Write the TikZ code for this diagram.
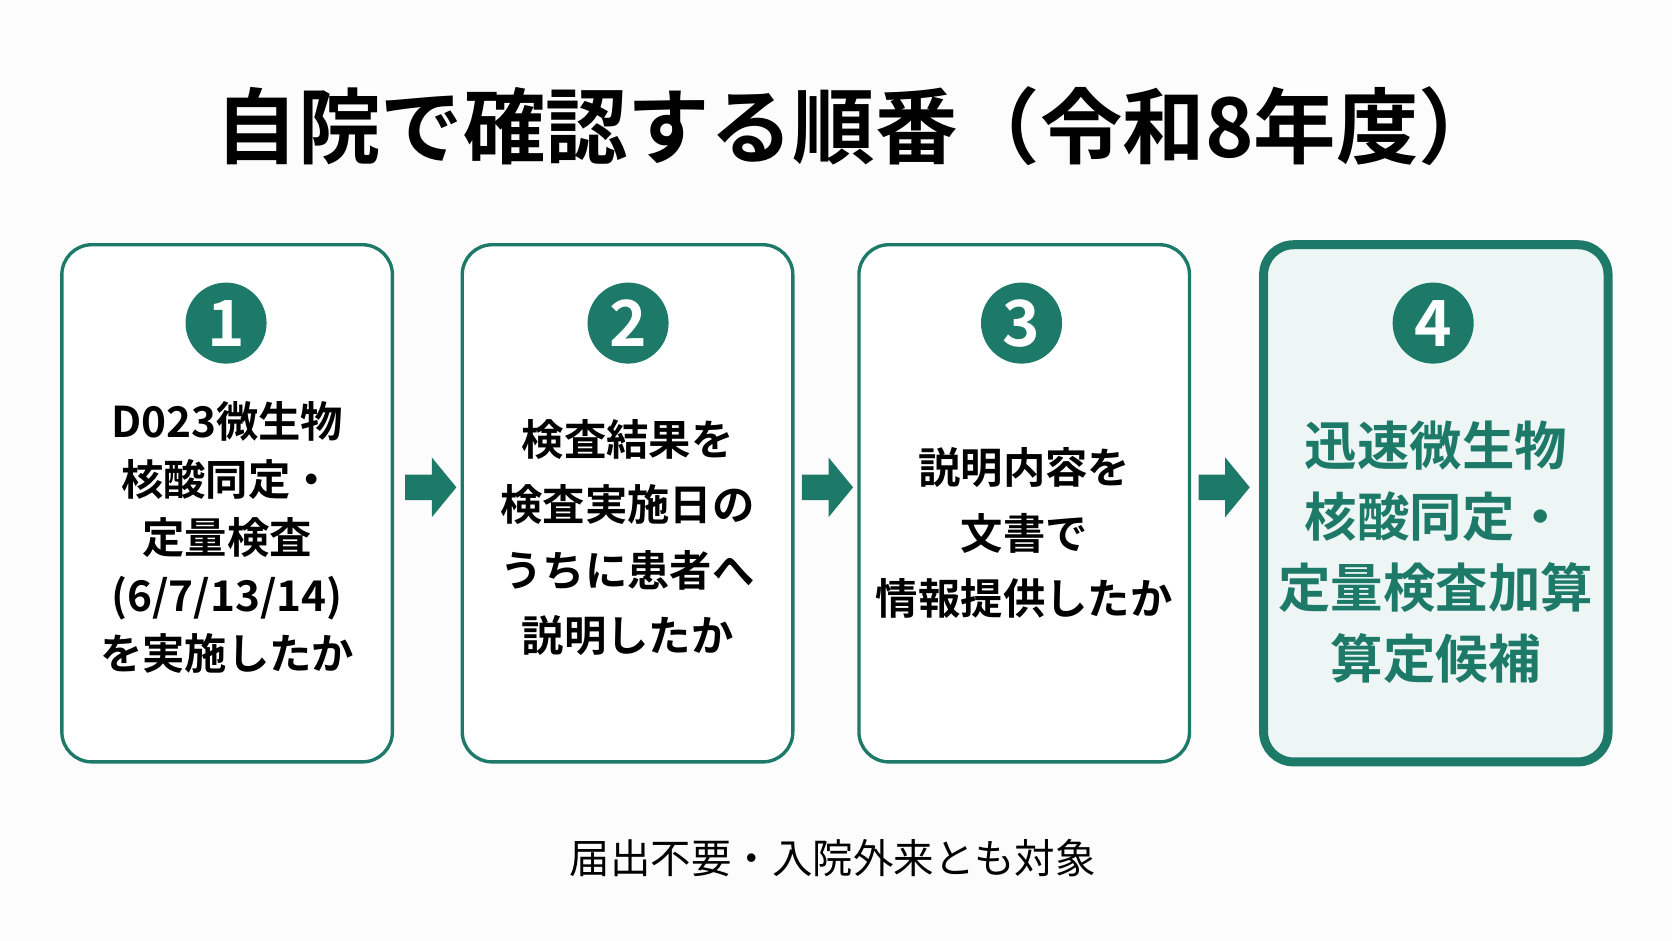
\documentclass[tikz,border=0pt]{standalone}
\usepackage{fontspec}
\setmainfont{Noto Sans CJK JP}
\newfontfamily\boldjp{Noto Sans CJK JP Bold}
\usetikzlibrary{positioning,calc}
\definecolor{teal1}{HTML}{1E7A68}
\definecolor{tealbg}{HTML}{EEF6F5}
\tikzset{
  stepbox/.style={draw=teal1,line width=0.9pt,rounded corners=8pt,fill=white,minimum width=3.1cm,minimum height=4.85cm},
  num/.style={circle,fill=teal1,text=white,minimum size=0.76cm,inner sep=0pt,font=\boldjp\fontsize{17}{17}\selectfont},
  txt/.style={align=center,font=\boldjp\fontsize{11.3}{15.5}\selectfont},
}
\newcommand{\blockarrow}[1]{\fill[teal1] ($(#1)+(-0.24,0.12)$) -- ++(0.25,0) -- ++(0,0.16) -- ++(0.23,-0.28) -- ++(-0.23,-0.28) -- ++(0,0.16) -- ++(-0.25,0) -- cycle;}
\begin{document}
\begin{tikzpicture}[x=1cm,y=1cm]
\useasboundingbox[fill=white!98!gray] (0,0) rectangle (15.68,8.82);
\node[font=\boldjp\fontsize{22}{22}\selectfont] (title) at (8.05,7.64) {自院で確認する順番（令和8年度）};
% boxes
\node[stepbox] (b1) at (2.13,4.10) {};
\node[stepbox] (b2) at (5.885,4.10) {};
\node[stepbox] (b3) at (9.605,4.10) {};
\node[stepbox,line width=2.4pt,fill=tealbg,minimum width=3.23cm] (b4) at (13.465,4.10) {};
\node[num] (n1) at (2.12,5.79) {1};
\node[num] (n2) at (5.89,5.79) {2};
\node[num] (n3) at (9.58,5.79) {3};
\node[num] (n4) at (13.44,5.79) {4};
\node[txt] (t1) at (2.13,3.78) {D023微生物\\核酸同定・\\定量検査\\(6/7/13/14)\\を実施したか};
\node[txt,font=\boldjp\fontsize{11.3}{17.5}\selectfont] (t2) at (5.885,3.78) {検査結果を\\検査実施日の\\うちに患者へ\\説明したか};
\node[txt,font=\boldjp\fontsize{11.3}{17.5}\selectfont] (t3) at (9.605,3.82) {説明内容を\\文書で\\情報提供したか};
\node[txt,text=teal1,font=\boldjp\fontsize{14}{19}\selectfont] (t4) at (13.465,3.64) {迅速微生物\\核酸同定・\\定量検査加算\\算定候補};
% arrows
\coordinate (a1) at (4.04,4.25);
\coordinate (a2) at (7.76,4.25);
\coordinate (a3) at (11.48,4.25);
\blockarrow{a1}
\blockarrow{a2}
\blockarrow{a3}
\node[font=\fontsize{10.8}{10.8}\selectfont] (foot) at (7.81,0.77) {届出不要・入院外来とも対象};
\end{tikzpicture}
\end{document}
